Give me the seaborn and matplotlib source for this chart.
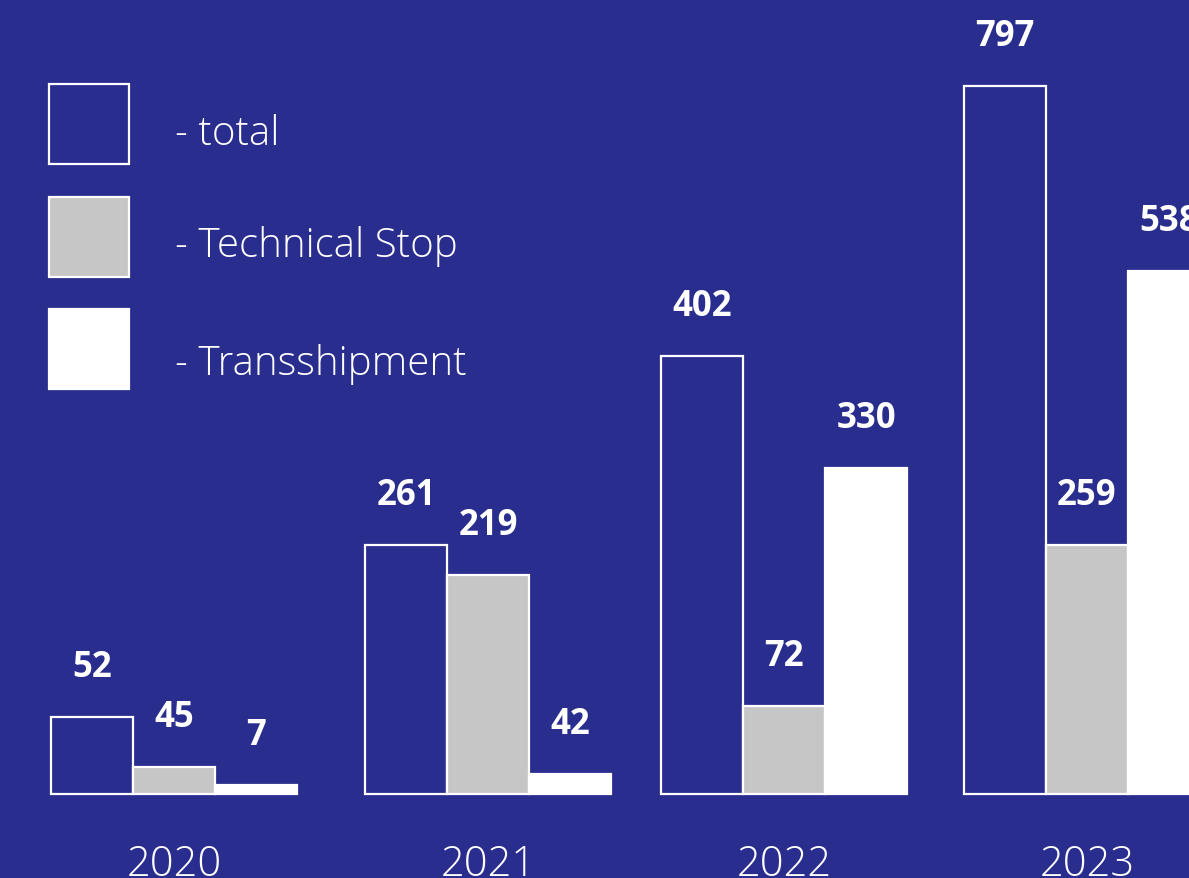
import matplotlib
matplotlib.use("Agg")
import matplotlib.pyplot as plt
from matplotlib.patches import Rectangle
import seaborn as sns
import pandas as pd

# ---- data ----
years = ["2020", "2021", "2022", "2023"]
series = ["total", "Technical Stop", "Transshipment"]
total_values = [52, 261, 402, 797]
technical_values = [45, 219, 72, 259]
transship_values = [7, 42, 330, 538]
# bar heights as drawn in the infographic (not proportional to the labels)
total_heights = [77, 249, 438, 708]
technical_heights = [27, 219, 88, 249]
transship_heights = [9, 20, 326, 523]

# ---- layout / style ----
BG = "#292e8e"
GRAY = "#c6c6c6"
colors = {"total": BG, "Technical Stop": GRAY, "Transshipment": "#ffffff"}
group_centers = [174, 488, 784, 1087]
W, H = 1189, 879
baseline_px = 795

rows = []
for s, vals, hts in zip(series,
                        [total_values, technical_values, transship_values],
                        [total_heights, technical_heights, transship_heights]):
    for gc, v, h in zip(group_centers, vals, hts):
        rows.append({"pos": gc, "series": s, "value": v, "height": h})
df = pd.DataFrame(rows)

sns.set_theme(style="white")
plt.rcParams["font.family"] = ["Open Sans", "DejaVu Sans"]

fig = plt.figure(figsize=(W / 100, H / 100), dpi=100, facecolor=BG)
ax = fig.add_axes([0, 0, 1, 1])
ax.set_facecolor(BG)

min_gap = min(b - a for a, b in zip(group_centers[:-1], group_centers[1:]))
sns.barplot(data=df, x="pos", y="height", hue="series", hue_order=series,
            palette=colors, saturation=1, native_scale=True,
            width=246 / min_gap, dodge=True, errorbar=None,
            edgecolor="white", linewidth=1.6, legend=False, ax=ax)

ax.set_xlim(0, W)
ax.set_ylim(-(H - baseline_px), baseline_px)
ax.axis("off")

for cont, vals in zip(ax.containers, [total_values, technical_values, transship_values]):
    ax.bar_label(cont, labels=[str(v) for v in vals], padding=23,
                 color="white", fontsize=25, fontweight="bold")

for gc, y in zip(group_centers, years):
    ax.text(gc, baseline_px - 876, y, ha="center", va="baseline",
            color="white", fontsize=30, fontweight="light")

# legend
leg_tops = [85, 198, 310]
leg_baselines = [145, 257, 375]
for s, top, bl in zip(series, leg_tops, leg_baselines):
    fc = colors[s]
    ax.add_patch(Rectangle((49, baseline_px - top - 80), 80, 80,
                           facecolor=fc, edgecolor="white", linewidth=1.6,
                           clip_on=False))
    ax.text(175, baseline_px - bl, f"- {s}", ha="left", va="baseline",
            color="white", fontsize=29, fontweight="light")

fig.savefig("out.png", dpi=100, facecolor=BG)
